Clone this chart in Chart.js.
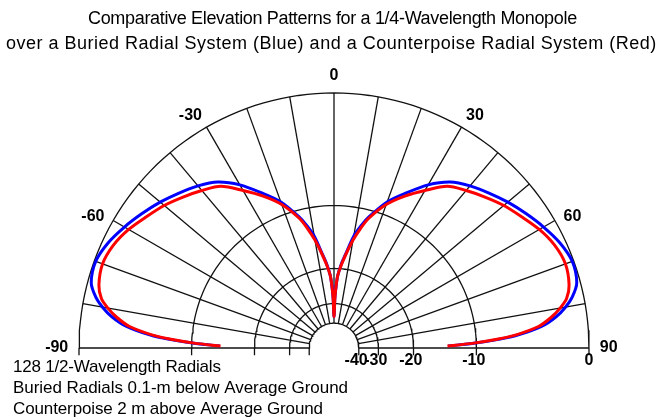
<!DOCTYPE html>
<html lang="en">
<head>
  <meta charset="UTF-8" />
  <title>Comparative Elevation Patterns</title>
  <script src="https://cdn.jsdelivr.net/npm/chart.js@4.4.0/dist/chart.umd.min.js"></script>
  <style>
    body { margin: 0; background: #fff; }
    canvas { display: block; }
  </style>
</head>
<body>
  <canvas id="patternChart" width="662" height="418"></canvas>

  <script>
    // grid (ARRL log scale, dB) and angle spokes (degrees from zenith)
    const gridDb = [0, -10, -20, -30, -40];
    const spokeAngles = [-90, -80, -70, -60, -50, -40, -30, -20, -10, 0, 10, 20, 30, 40, 50, 60, 70, 80, 90];
    const angleLabels = [-90, -60, -30, 0, 30, 60, 90];
    const dbLabels = [-40, -30, -20, -10, 0];

    // pattern, right half (left half is the mirror)
    const patternAngles = [0, 1, 2, 3, 5, 7.5, 10, 12.5, 15, 20, 25, 30, 35, 40, 45, 50, 55, 60, 65, 70, 75, 78, 80, 82, 84, 86, 87, 88, 89];
    const buriedDb =       [-36, -28, -24, -21.5, -19.0, -16.6, -13.9, -12.2, -10.8, -8.5, -6.85, -5.2, -3.95, -3.2, -2.6, -2.0, -1.45, -0.9, -0.4, -0.1, -0.25, -0.8, -1.4, -2.2, -3.4, -5.6, -7.5, -10.1, -13.8];
    const counterpoiseDb = [-36, -28, -24, -21.5, -19.2, -16.8, -14.5, -12.6, -11.0, -8.8, -7.2, -5.8, -4.4, -3.7, -3.05, -2.4, -1.85, -1.25, -0.8, -0.6, -0.8, -1.2, -1.8, -2.6, -3.7, -5.9, -7.8, -10.3, -13.9];

    const titleLines = [
      'Comparative Elevation Patterns for a 1/4-Wavelength Monopole',
      'over a Buried Radial System (Blue) and a Counterpoise Radial System (Red)'
    ];
    const notes = [
      '128 1/2-Wavelength Radials',
      'Buried Radials 0.1-m below Average Ground',
      'Counterpoise 2 m above Average Ground'
    ];

    // 2 dB per 0.89 of radius
    function rad(db) {
      return Math.pow(0.89, -db / 2);
    }
    function polar(deg, r) {
      const a = deg * Math.PI / 180;
      return { x: r * Math.sin(a), y: r * Math.cos(a) };
    }

    function lobe(dbs) {
      const left = patternAngles.map((a, i) => polar(-a, rad(dbs[i]))).reverse();
      const right = patternAngles.slice(1).map((a, i) => polar(a, rad(dbs[i + 1])));
      return left.concat(right);
    }

    const gridStyle = {
      showLine: true, pointRadius: 0, borderColor: '#111', borderWidth: 1.3,
      tension: 0, order: 10
    };

    const datasets = [];
    datasets.push({
      label: 'Counterpoise', data: lobe(counterpoiseDb), showLine: true, pointRadius: 0,
      borderColor: '#ff0000', borderWidth: 3, tension: 0.3, order: 0
    });
    datasets.push({
      label: 'Buried', data: lobe(buriedDb), showLine: true, pointRadius: 0,
      borderColor: '#0000ff', borderWidth: 3, tension: 0.3, order: 1
    });

    gridDb.forEach(db => {
      const pts = [];
      for (let a = -90; a <= 90; a += 2) pts.push(polar(a, rad(db)));
      datasets.push(Object.assign({ data: pts }, gridStyle));
      // small ticks below the baseline
      [-1, 1].forEach(s => {
        datasets.push(Object.assign({ data: [{ x: s * rad(db), y: 0 }, { x: s * rad(db), y: -0.028 }] }, gridStyle));
      });
    });
    spokeAngles.forEach(a => {
      datasets.push(Object.assign({ data: [polar(a, rad(-40)), polar(a, rad(0))] }, gridStyle));
    });

    // spread the letters so a line fills the width it has in the original
    function fitText(ctx, text, x, y, width) {
      ctx.letterSpacing = '0px';
      const w = ctx.measureText(text).width;
      const sp = (width - w) / (text.length - 1);
      ctx.letterSpacing = sp.toFixed(2) + 'px';
      ctx.textAlign = 'left';
      ctx.fillText(text, x, y);
      ctx.letterSpacing = '0px';
    }

    const textPlugin = {
      id: 'texts',
      afterDraw(chart) {
        const ctx = chart.ctx;
        const xs = chart.scales.x, ys = chart.scales.y;
        ctx.save();
        ctx.fillStyle = '#000';
        ctx.textBaseline = 'middle';

        ctx.font = '18px "Liberation Sans", Arial, sans-serif';
        fitText(ctx, titleLines[0], 88, 19, 489);
        fitText(ctx, titleLines[1], 6, 44, 650);

        // label with its digits centred on the point
        function numLabel(v, px, py) {
          const w = ctx.measureText(String(Math.abs(v))).width;
          ctx.textAlign = 'right';
          ctx.fillText(String(v), px + w / 2, py);
        }

        ctx.font = 'bold 16px "Liberation Sans", Arial, sans-serif';
        angleLabels.forEach(a => {
          const side = Math.abs(a) === 90 ? 1.077 : 1.067;
          const shift = Math.abs(a) === 90 ? 0 : Math.sign(a) * 1.2;
          const p = polar(a + shift, side);
          numLabel(a, xs.getPixelForValue(p.x), ys.getPixelForValue(p.y));
        });
        dbLabels.forEach(db => {
          numLabel(db, xs.getPixelForValue(rad(db)), ys.getPixelForValue(-0.05));
        });

        ctx.font = '17px "Liberation Sans", Arial, sans-serif';
        fitText(ctx, notes[0], 13, 367, 208);
        fitText(ctx, notes[1], 13, 388, 335);
        fitText(ctx, notes[2], 13, 409, 310);
        ctx.restore();
      }
    };

    const R = 255, cx = 334, cy = 348;
    new Chart(document.getElementById('patternChart'), {
      type: 'scatter',
      data: { datasets: datasets },
      options: {
        responsive: false,
        animation: false,
        devicePixelRatio: 1,
        layout: { padding: 0 },
        plugins: { legend: { display: false }, tooltip: { enabled: false }, title: { display: false } },
        scales: {
          x: { type: 'linear', display: false, min: -cx / R, max: (662 - cx) / R },
          y: { type: 'linear', display: false, min: -(418 - cy) / R, max: cy / R }
        }
      },
      plugins: [textPlugin]
    });
  </script>
</body>
</html>
